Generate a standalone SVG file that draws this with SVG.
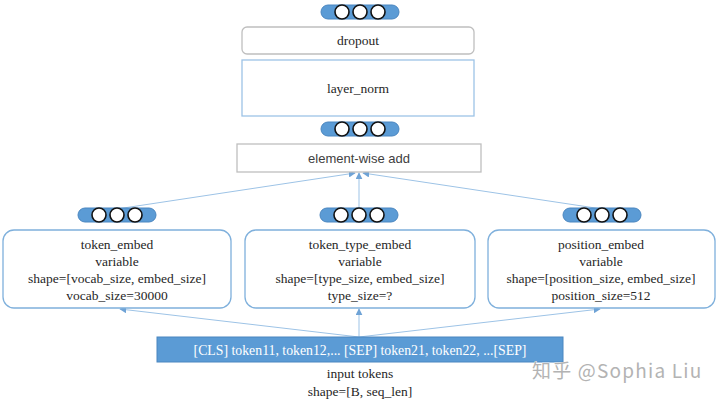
<svg xmlns="http://www.w3.org/2000/svg" width="720" height="402" viewBox="0 0 720 402">
<style>
.serif{font-family:'Liberation Serif','Times New Roman',Tinos,'DejaVu Serif',serif;font-size:13.5px;fill:#262626;text-anchor:middle}
.sans{font-family:'Liberation Sans',Arial,sans-serif;font-size:13px;fill:#404040;text-anchor:middle}
.pill{fill:#5b9bd5;stroke:#4a86c0;stroke-width:1}
.dot{fill:#fff;stroke:#111;stroke-width:1.6}
.emb{fill:#fff;stroke:#7fb0dc;stroke-width:1.3}
.conn{stroke:#9dc3e6;stroke-width:1;fill:none;marker-end:url(#ah)}
</style>
<defs>
<marker id="ah" viewBox="0 0 10 10" refX="9" refY="5" markerWidth="7" markerHeight="7" markerUnits="userSpaceOnUse" orient="auto">
<path d="M0,0 L10,5 L0,10 z" fill="#6fa3d6"/>
</marker>
<g id="pillshape">
<rect x="-39" y="-7" width="78" height="14" rx="7" class="pill"/>
<circle cx="-18" cy="0" r="7" class="dot"/>
<circle cx="0" cy="0" r="7" class="dot"/>
<circle cx="18" cy="0" r="7" class="dot"/>
</g>
</defs>
<rect width="720" height="402" fill="#fff"/>
<g id="connectors">
<line x1="117" y1="209" x2="355" y2="173" class="conn"/>
<line x1="359" y1="207" x2="359" y2="173" class="conn"/>
<line x1="602" y1="209" x2="363" y2="173" class="conn"/>
<line x1="359" y1="337" x2="120" y2="309" class="conn"/>
<line x1="359" y1="337" x2="359" y2="309" class="conn"/>
<line x1="359" y1="337" x2="600" y2="309" class="conn"/>
</g>
<g id="pill-top"><use href="#pillshape" x="360" y="12"/></g>
<g id="dropout">
<rect x="242" y="27" width="232" height="27" rx="5" fill="#fff" stroke="#bfbfbf" stroke-width="1.3"/>
<text x="358" y="45" class="serif">dropout</text>
</g>
<g id="layer_norm">
<rect x="242" y="60" width="232" height="56" fill="#fff" stroke="#9dc3e6" stroke-width="1.3"/>
<text x="358" y="93" class="serif">layer_norm</text>
</g>
<g id="pill-mid"><use href="#pillshape" x="360" y="129"/></g>
<g id="add">
<rect x="237" y="144" width="244" height="28" fill="#fff" stroke="#bfbfbf" stroke-width="1.3"/>
<text x="359" y="162.5" class="sans">element-wise add</text>
</g>
<g id="pill-left"><use href="#pillshape" x="117" y="215"/></g>
<g id="pill-center"><use href="#pillshape" x="359" y="215"/></g>
<g id="pill-right"><use href="#pillshape" x="602" y="215"/></g>
<g id="token_embed">
<rect x="3" y="230" width="228" height="78" rx="11" class="emb"/>
<text class="serif"><tspan x="117" y="249">token_embed</tspan><tspan x="117" y="266">variable</tspan><tspan x="117" y="283">shape=[vocab_size, embed_size]</tspan><tspan x="117" y="300">vocab_size=30000</tspan></text>
</g>
<g id="token_type_embed">
<rect x="245" y="230" width="230" height="78" rx="11" class="emb"/>
<text class="serif"><tspan x="360" y="249">token_type_embed</tspan><tspan x="360" y="266">variable</tspan><tspan x="360" y="283">shape=[type_size, embed_size]</tspan><tspan x="360" y="300">type_size=?</tspan></text>
</g>
<g id="position_embed">
<rect x="488" y="230" width="227" height="78" rx="11" class="emb"/>
<text class="serif"><tspan x="601" y="249">position_embed</tspan><tspan x="601" y="266">variable</tspan><tspan x="601" y="283">shape=[position_size, embed_size]</tspan><tspan x="601" y="300">position_size=512</tspan></text>
</g>
<g id="input">
<rect x="157" y="337" width="406" height="25" fill="#5b9bd5" stroke="#4a86c0" stroke-width="1"/>
<text x="360" y="354.5" class="serif" style="fill:#fff;font-size:13.8px">[CLS] token11, token12,... [SEP] token21, token22, ...[SEP]</text>
<text x="360" y="378" class="serif">input tokens</text>
<text x="360" y="396" class="serif">shape=[B, seq_len]</text>
</g>
<text x="532" y="378" style="font-family:'Noto Sans CJK SC','Noto Sans',sans-serif;font-size:19px;letter-spacing:1.2px;fill:#b3b3b3;stroke:#fff;stroke-width:0.6;paint-order:stroke">知乎 @Sophia Liu</text>
</svg>
